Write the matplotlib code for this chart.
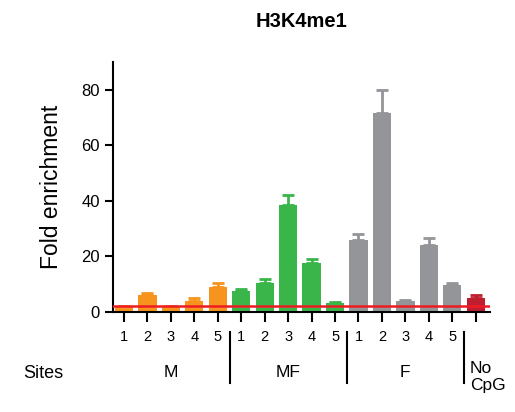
import matplotlib.pyplot as plt
import numpy as np

plt.rcParams['font.family'] = ['Liberation Sans', 'DejaVu Sans']

# data
groups = ['M', 'MF', 'F']
site_labels = ['1', '2', '3', '4', '5'] * 3 + ['']
values = [2.0, 6.1, 1.9, 4.0, 9.0,
          7.5, 10.4, 38.6, 17.6, 3.2,
          25.9, 71.7, 4.0, 24.0, 9.7,
          5.0]
errors = [0.3, 0.7, 0.3, 1.0, 1.4,
          0.7, 1.4, 3.6, 1.5, 0.4,
          2.2, 8.3, 0.3, 2.5, 0.7,
          1.1]
colors = ['#F7941D'] * 5 + ['#39B54A'] * 5 + ['#939598'] * 5 + ['#BE1E2D']
baseline = 2.2

fig = plt.figure(figsize=(5.15, 4.12), dpi=100)
ax = fig.add_axes([0.2194, 0.2427, 0.7316, 0.6068])

x = np.arange(len(values))
ax.bar(x, values, width=0.78, color=colors, zorder=2)
for xi, v, e, c in zip(x, values, errors, colors):
    ax.errorbar(xi, v, yerr=[[0], [e]], fmt='none', ecolor=c, elinewidth=2,
                capsize=4, capthick=2, zorder=2)
ax.axhline(baseline, color='#ED1C24', lw=1.8, zorder=3)

ax.set_xlim(-0.47, 15.6)
ax.set_ylim(0, 90)
ax.set_yticks([0, 20, 40, 60, 80])
ax.set_xticks(x)
ax.set_xticklabels(site_labels, fontsize=10.5)
ax.tick_params(axis='x', length=7, width=1.5, pad=6)
ax.tick_params(axis='y', length=6, width=1.5, labelsize=12)
for s in ['top', 'right']:
    ax.spines[s].set_visible(False)
for s in ['left', 'bottom']:
    ax.spines[s].set_linewidth(1.5)

ax.set_ylabel('Fold enrichment', fontsize=16.5, labelpad=13)
ax.set_title('H3K4me1', fontsize=14.5, fontweight='bold', pad=25)

# group labels below the sites
trans = ax.get_xaxis_transform()
for i, g in enumerate(groups):
    ax.text(i * 5 + 2, -0.24, g, transform=trans, ha='center', va='center',
            fontsize=12.5)
ax.text(15 - 0.25, -0.26, 'No\nCpG', transform=trans, ha='left', va='center',
        fontsize=12.5, linespacing=1.1)
fig.text(0.045, 0.093, 'Sites', ha='left', va='center', fontsize=13)
for sep in [4.5, 9.5, 14.5]:
    ax.plot([sep, sep], [-0.08, -0.285], transform=trans, color='black',
            lw=1.5, clip_on=False)

fig.savefig('out.png', dpi=100)
